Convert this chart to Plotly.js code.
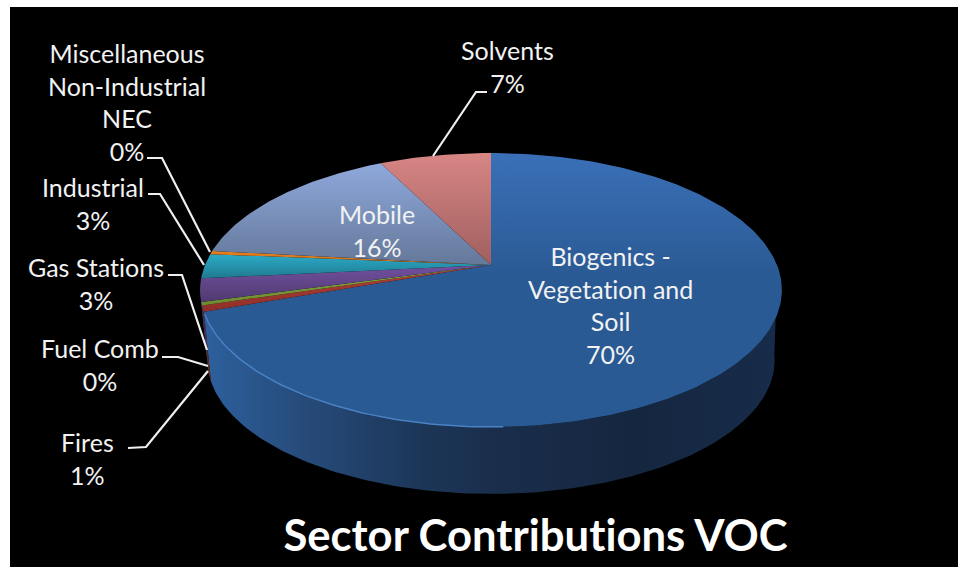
<!DOCTYPE html>
<html>
<head>
<meta charset="utf-8">
<script src="https://cdn.plot.ly/plotly-3.0.0.min.js"></script>
<style>html,body{margin:0;padding:0;background:#fff}#chart{width:958px;height:567px}
svg text{font-variant-ligatures:none;font-feature-settings:"liga" 0,"clig" 0}</style>
</head>
<body>
<div id="chart"></div>
<script>
// Data, clockwise from twelve o'clock
const categories = ['Biogenics - Vegetation and Soil','Fires','Fuel Comb','Gas Stations','Industrial','Miscellaneous Non-Industrial NEC','Mobile','Solvents'];
const labelLines = ['Biogenics -<br>Vegetation and<br>Soil','Fires','Fuel Comb','Gas Stations','Industrial','Miscellaneous<br>Non-Industrial<br>NEC','Mobile','Solvents'];
const values = [69.7, 0.7, 0.4, 2.7, 2.9, 0.4, 15.9, 7.4];
const topLight = ['#3a70b8','#b0403a','#8aab3c','#72509f','#2cabc8','#e8801f','#8fa9dc','#d78684'];
const topDark  = ['#2a5a94','#8e2f28','#6c8a2e','#4f3a70','#1f7a90','#c96f1c','#64789a','#a05f5f'];
const sideCols = ['#2c5f9c','#7a2820','#5d7526','#3f2e5c','#1a6477','#a55a14','#4f6080','#804c4c'];

// Label placement in page pixels
const labelCentres = [[610,304.5],[87,458],[100,364],[96,283.5],[93,203],[127,101.5],[377,230],[507,66]];
const leaders = [
  null,
  [[128,448],[146,447],[208,371]],
  [[162,357],[178,357],[208,366]],
  [[168,275],[182,275],[207,350]],
  [[148,194],[160,194],[204,265]],
  [[147,158],[162,158],[210,252]],
  null,
  [[487,92],[476,92],[433,156]]
];

// Perspective disc geometry
const cx = 491, cy = 265, a = 286, b = 132.4, k = 0.1825;
function topPt(deg){
  const t = deg*Math.PI/180, u = Math.sin(t), v = Math.cos(t), d = 1 + k*v;
  return [cx + a*u/d, cy - b*v/d];
}
function botPt(deg){
  const p = topPt(deg);
  return [cx + (p[0]-cx)*0.975, cy + (p[1]-cy)*0.975 + 71];
}
function arc(fn, d1, d2){
  const n = Math.max(2, Math.ceil(Math.abs(d2-d1))), out = [];
  for(let i=0;i<=n;i++) out.push(fn(d1 + (d2-d1)*i/n));
  return out;
}

const total = values.reduce((s,x)=>s+x,0);
const starts = [], ends = [];
values.reduce((acc,val,i)=>{starts[i]=acc; ends[i]=acc+val/total*360; return ends[i];},0);

const traces = [];

// Side wall, front part only: the rim and the base leave the silhouette at different angles
const rimFrom = 112, baseFrom = 98, sideTo = 264;
values.forEach((val,i)=>{
  const e = Math.min(ends[i], sideTo);
  if(e <= Math.max(starts[i], baseFrom)) return;
  const pts = arc(topPt,Math.max(starts[i],rimFrom),e).concat(arc(botPt,e,Math.max(starts[i],baseFrom)));
  pts.push(pts[0]);
  const tr = {type:'scatter',mode:'lines',x:pts.map(p=>p[0]),y:pts.map(p=>p[1]),fill:'toself',
    line:{width:0,color:sideCols[i]},fillcolor:sideCols[i],hoverinfo:'skip',showlegend:false};
  if(i===0){
    tr.fillgradient = {type:'horizontal',start:200,stop:782,colorscale:[
      [0,'#2d619f'],[0.16,'#274d7d'],[0.38,'#1c3658'],[0.5,'#1a2e4c'],[0.75,'#15263f'],[1,'#172c4b']]};
  }
  traces.push(tr);
});

// Top face
values.forEach((val,i)=>{
  const pts = [[cx,cy]].concat(arc(topPt,starts[i],ends[i]));
  pts.push([cx,cy]);
  traces.push({type:'scatter',mode:'lines',x:pts.map(p=>p[0]),y:pts.map(p=>p[1]),fill:'toself',
    line:{width:0,color:topDark[i]},
    fillgradient:{type:'vertical',colorscale:[[0,topDark[i]],[i===0?0.55:0,topDark[i]],[1,topLight[i]]]},
    name:categories[i],hoverinfo:'text',text:categories[i]+': '+Math.round(val)+'%',showlegend:false});
});

// Rim highlight at the lower left
const rim = arc(topPt,178,ends[0]-1);
traces.push({type:'scatter',mode:'lines',x:rim.map(p=>p[0]),y:rim.map(p=>p[1]),
  line:{width:1.5,color:'#4a82c6'},hoverinfo:'skip',showlegend:false});

const annotations = values.map((val,i)=>({
  xref:'x',yref:'y',x:labelCentres[i][0],y:labelCentres[i][1],showarrow:false,align:'center',
  xanchor:'center',yanchor:'middle',text:labelLines[i]+'<br>'+Math.round(val)+'%',
  font:{family:'Lato, "Open Sans", sans-serif',size:25,color:'#f2f2f2'}
}));

const shapes = leaders.filter(Boolean).map(l=>({
  type:'path',xref:'x',yref:'y',
  path:'M'+l.map(p=>p[0]+','+p[1]).join('L'),
  line:{color:'#efefef',width:2.2},fillcolor:'rgba(0,0,0,0)'
}));

const layout = {
  width:958,height:567,
  margin:{l:10,r:0,t:7,b:0,pad:0},
  paper_bgcolor:'#ffffff',plot_bgcolor:'#000000',
  xaxis:{range:[10,958],visible:false,fixedrange:true},
  yaxis:{range:[567,7],visible:false,fixedrange:true},
  showlegend:false,
  title:{text:'<b>Sector Contributions VOC</b>',x:(535.5-10)/948,xanchor:'center',xref:'paper',
    y:1-536/567,yanchor:'middle',yref:'container',
    font:{family:'Lato, "Open Sans", sans-serif',size:43.6,color:'#ffffff'}},
  annotations,shapes
};
Plotly.newPlot('chart',traces,layout,{displayModeBar:false,responsive:false});
</script>
</body>
</html>
